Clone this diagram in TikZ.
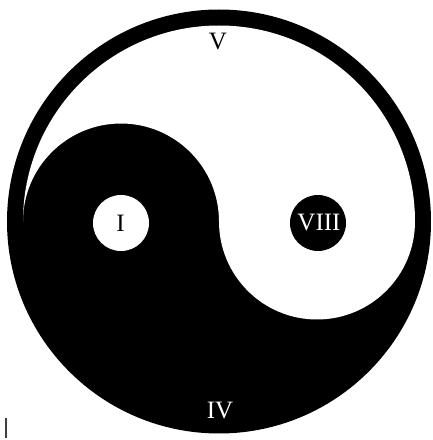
\documentclass[tikz,border=0pt]{standalone}
\usepackage{fontspec}
\setmainfont{Liberation Serif}
\begin{document}
\begin{tikzpicture}[x=1pt,y=1pt,
  lbl/.style={inner sep=0pt,font=\fontsize{25}{25}\selectfont},
  whitelbl/.style={lbl,text=white},
  blacklbl/.style={lbl,text=black}]
\useasboundingbox (0,0) rectangle (433,440);
\fill[white] (0,0) rectangle (433,440);
\coordinate (c) at (219,218.5);
% outer black disc
\fill[black] (c) circle[radius=212];
% white half (yang)
\fill[white] ([xshift=-196pt]c) arc[start angle=180,end angle=0,radius=196]
  arc[start angle=0,end angle=-180,radius=98]
  arc[start angle=0,end angle=180,radius=98] -- cycle;
% eyes
\fill[white] ([xshift=-98pt,yshift=-1.5pt]c) circle[radius=28];
\fill[black] ([xshift=99pt,yshift=-1.5pt]c) circle[radius=28];
% labels
\node[blacklbl] (v) at (218,398) {V};
\node[blacklbl] (one) at (120.5,217) {I};
\node[whitelbl] (eight) at (319,217) {VIII};
\node[whitelbl] (four) at (220,29) {IV};
% stray mark
\coordinate (m1) at (6,2);
\coordinate (m2) at (6,22);
\draw[black!75,line width=2.2pt] (m1) -- (m2);
\end{tikzpicture}
\end{document}
